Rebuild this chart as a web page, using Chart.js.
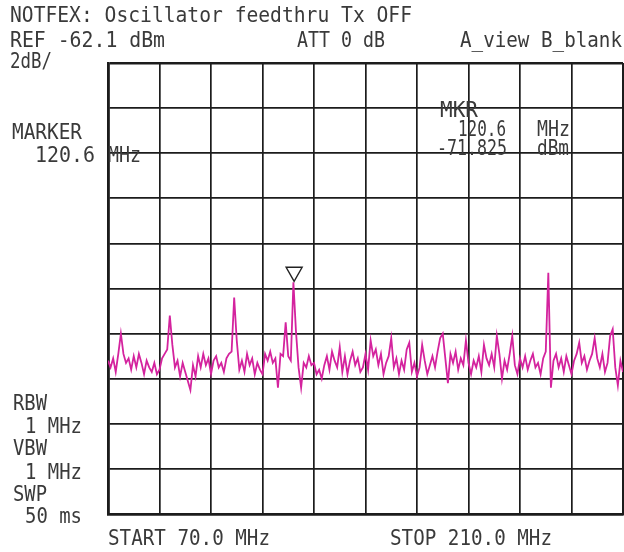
<!DOCTYPE html>
<html>
<head>
<meta charset="utf-8">
<script src="https://cdn.jsdelivr.net/npm/chart.js@4.4.0/dist/chart.umd.min.js"></script>
<style>
  html, body { margin: 0; padding: 0; background: #fff; }
  #wrap { width: 624px; height: 552px; }
</style>
</head>
<body>
<div id="wrap"><canvas id="sa" width="624" height="552"></canvas></div>
<script>
// analyzer settings
const SPAN_START = 70;      // MHz
const SPAN_STOP = 210;      // MHz
const REF_DBM = -62.1;
const DB_PER_DIV = 2;
const DIVS = 10;
const MARKER_MHZ = 120.6;
const MARKER_DBM = -71.825;

// trace A, dBm per sweep bin (201 bins across the span)
const traceDbm = [
  -75.3, -75.6, -75.2, -75.8, -75.0, -74.1, -75.0, -75.4, -75.2, -75.7,
  -75.1, -75.6, -75.0, -75.4, -75.9, -75.3, -75.6, -75.8, -75.4, -75.9,
  -75.7, -75.2, -75.0, -74.8, -73.3, -74.6, -75.6, -75.3, -76.0, -75.4,
  -75.8, -76.2, -76.6, -75.5, -76.0, -75.1, -75.6, -75.0, -75.5, -75.2,
  -75.9, -75.3, -75.1, -75.6, -75.4, -75.8, -75.2, -75.0, -74.9, -72.5,
  -74.4, -75.7, -75.3, -75.8, -75.0, -75.5, -75.2, -75.9, -75.4, -75.7,
  -75.9, -75.0, -75.3, -74.9, -75.4, -75.2, -76.5, -75.0, -75.1, -73.6,
  -75.1, -75.3, -71.825, -74.0, -75.6, -76.5, -75.4, -75.6, -75.1, -75.5,
  -75.4, -75.9, -75.7, -76.1, -75.5, -75.1, -75.7, -74.9, -75.3, -75.6,
  -74.7, -75.8, -75.1, -75.9, -75.3, -74.9, -75.5, -75.2, -75.8, -75.6,
  -75.0, -75.7, -74.4, -75.1, -74.8, -75.5, -75.0, -75.9, -75.4, -75.1,
  -74.3, -75.6, -75.2, -75.9, -75.3, -75.7, -74.8, -74.5, -75.8, -75.4,
  -76.0, -75.6, -74.6, -75.3, -75.9, -75.5, -75.1, -75.6, -74.9, -74.3,
  -74.1, -75.2, -76.3, -75.0, -75.4, -74.9, -75.7, -75.2, -75.5, -74.4,
  -75.4, -75.9, -75.3, -75.6, -75.1, -75.8, -74.6, -75.2, -75.5, -75.0,
  -75.6, -74.2, -75.0, -76.1, -75.3, -75.7, -75.0, -74.2, -75.5, -75.9,
  -75.2, -75.6, -75.1, -75.7, -75.3, -75.0, -75.6, -75.4, -75.9, -75.2,
  -74.9, -71.4, -76.5, -75.3, -75.0, -75.6, -75.2, -75.8, -75.1, -75.5,
  -75.9, -75.3, -75.0, -74.5, -75.4, -75.1, -75.7, -75.3, -75.0, -74.3,
  -75.2, -75.6, -75.0, -75.8, -75.4, -74.2, -73.9, -75.6, -76.4, -75.3,
  -75.8
];

// screen annotations: text, left x, middle y, width
const labels = [
  ["NOTFEX: Oscillator feedthru Tx OFF", 10, 17, 402],
  ["REF -62.1 dBm", 10, 42, 155],
  ["ATT 0 dB", 297, 42, 88],
  ["A_view B_blank", 460, 42, 162],
  ["2dB/", 10, 63, 42],
  ["MARKER", 12, 134, 70],
  ["120.6", 35, 157, 60],
  ["MHz", 108, 157, 33],
  ["MKR", 440, 112, 38],
  ["120.6", 458, 131, 48],
  ["MHz", 537, 131, 33],
  ["-71.825", 437, 150, 70],
  ["dBm", 537, 150, 32],
  ["RBW", 13, 405, 34],
  ["1 MHz", 25, 428, 57],
  ["VBW", 13, 450, 34],
  ["1 MHz", 25, 474, 57],
  ["SWP", 13, 496, 34],
  ["50 ms", 25, 518, 57],
  ["START 70.0 MHz", 108, 540, 162],
  ["STOP 210.0 MHz", 390, 540, 162]
];

const binWidth = (SPAN_STOP - SPAN_START) / (traceDbm.length - 1);
const points = traceDbm.map((v, i) => ({ x: SPAN_START + i * binWidth, y: v }));

const gridWidth = c => (c.index === 0 || c.index === DIVS) ? 2.6 : 1.7;

const screenText = {
  id: "screenText",
  afterDraw(chart) {
    const ctx = chart.ctx;
    const xs = chart.scales.x, ys = chart.scales.y;

    // marker triangle sitting on the peak
    const mx = xs.getPixelForValue(MARKER_MHZ);
    const my = ys.getPixelForValue(MARKER_DBM) - 1;
    ctx.save();
    ctx.strokeStyle = "#222";
    ctx.lineWidth = 1.4;
    ctx.beginPath();
    ctx.moveTo(mx, my);
    ctx.lineTo(mx - 8, my - 14);
    ctx.lineTo(mx + 8, my - 14);
    ctx.closePath();
    ctx.fillStyle = "#fff";
    ctx.fill();
    ctx.stroke();
    ctx.restore();

    ctx.save();
    ctx.fillStyle = "#3a3a3a";
    ctx.font = "21px 'DejaVu Sans Mono'";
    ctx.textBaseline = "middle";
    labels.forEach(([t, x, y, w]) => {
      const mw = ctx.measureText(t).width;
      ctx.save();
      ctx.translate(x, y);
      ctx.scale(w / mw, 1);
      ctx.fillText(t, 0, 0);
      ctx.restore();
    });
    ctx.restore();
  }
};

new Chart(document.getElementById("sa"), {
  type: "line",
  data: {
    datasets: [{
      data: points,
      borderColor: "#d4239e",
      borderWidth: 1.8,
      pointRadius: 0,
      tension: 0,
      fill: false
    }]
  },
  options: {
    responsive: false,
    animation: false,
    layout: { padding: { left: 108, top: 63, right: 1, bottom: 38 } },
    plugins: { legend: { display: false }, tooltip: { enabled: false } },
    scales: {
      x: {
        type: "linear",
        min: SPAN_START,
        max: SPAN_STOP,
        ticks: { display: false, stepSize: (SPAN_STOP - SPAN_START) / DIVS },
        grid: { color: "#1c1c1c", lineWidth: gridWidth, drawTicks: false, tickLength: 0 },
        border: { color: "#1c1c1c", width: 2.6 }
      },
      y: {
        type: "linear",
        min: REF_DBM - DB_PER_DIV * DIVS,
        max: REF_DBM,
        afterBuildTicks: s => {
          s.ticks = Array.from({ length: DIVS + 1 }, (_, k) => ({ value: REF_DBM - DB_PER_DIV * (DIVS - k) }));
        },
        ticks: { display: false },
        grid: { color: "#1c1c1c", lineWidth: gridWidth, drawTicks: false, tickLength: 0 },
        border: { color: "#1c1c1c", width: 2.6 }
      }
    }
  },
  plugins: [screenText]
});
</script>
</body>
</html>
